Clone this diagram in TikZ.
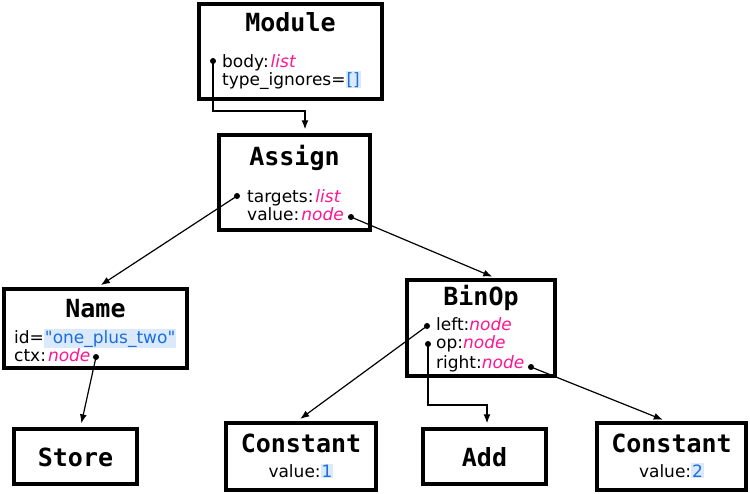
\documentclass[tikz,border=0pt]{standalone}
\usepackage{fontspec}
\setmainfont{DejaVu Sans}
\newfontfamily\rawfont{DejaVu Sans}
\newfontfamily\titlefont{DejaVu Sans Mono}[BoldFont={* Bold}]
\usepackage{tikz}
\usetikzlibrary{arrows.meta,positioning,calc}

\definecolor{kwpink}{RGB}{255,20,147}
\definecolor{valblue}{RGB}{28,110,222}
\definecolor{valbg}{RGB}{218,234,252}
\newcommand{\kw}[1]{\textcolor{kwpink}{\itshape #1}}
\newcommand{\valbox}[1]{{\setlength\fboxsep{1pt}\colorbox{valbg}{\textcolor{valblue}{#1}}}}

\begin{document}
\begin{tikzpicture}[
  x=1pt, y=-1pt,
  box/.style={draw, line width=3.5pt, inner sep=0pt},
  title/.style={anchor=base, inner sep=0pt, font=\titlefont\bfseries\fontsize{25}{25}\selectfont},
  field/.style={anchor=base west, inner sep=0pt, font=\fontsize{17}{17}\selectfont},
  dot/.style={circle, fill, inner sep=0pt, minimum size=6pt},
  arr/.style={-{Latex[length=9pt,width=7pt]}, line width=1.2pt, shorten >=4pt}]
  \useasboundingbox (0,0) rectangle (750,493);

  % boxes
  \node[box, minimum width=183pt, minimum height=95pt] (module) at (290.5,51.5) {};
  \node[box, minimum width=151pt, minimum height=95pt] (assign) at (294.5,182.5) {};
  \node[box, minimum width=183pt, minimum height=79pt] (name)   at (95.5,328.5) {};
  \node[box, minimum width=148pt, minimum height=96pt] (binop)  at (481,328) {};
  \node[box, minimum width=123pt, minimum height=55pt] (store)  at (75.5,456.5) {};
  \node[box, minimum width=150pt, minimum height=67pt] (constL) at (301,456.5) {};
  \node[box, minimum width=123pt, minimum height=55pt] (add)    at (484.5,456.5) {};
  \node[box, minimum width=149pt, minimum height=67pt] (constR) at (671.5,456.5) {};

  % titles
  \node[title] (moduleT) at (290.5,31)  {Module};
  \node[title] (assignT) at (294.5,165) {Assign};
  \node[title] (nameT)   at (95.5,317)  {Name};
  \node[title] (binopT)  at (481,305)   {BinOp};
  \node[title] (storeT)  at (75.5,466)  {Store};
  \node[title] (constLT) at (301,452)   {Constant};
  \node[title] (addT)    at (484.5,466) {Add};
  \node[title] (constRT) at (671.5,452) {Constant};

  % fields
  \node[field] (modBody) at (222,67)  {body:\kern2pt\kw{list}};
  \node[field] (modTI)   at (222,85)  {type\_ignores=\valbox{[]}};
  \node[field] (asgTgt)  at (247,202) {targets:\kern2pt\kw{list}};
  \node[field] (asgVal)  at (247,220) {value:\kern2pt\kw{node}};
  \node[field] (nameId)  at (14,343)  {id=\valbox{\rawfont"one\_plus\_two"}};
  \node[field] (nameCtx) at (14,361)  {ctx:\kern2pt\kw{node}};
  \node[field] (binLeft) at (436,330) {left:\kw{node}};
  \node[field] (binOp)   at (436,348) {op:\kw{node}};
  \node[field] (binRight) at (436,368) {right:\kw{node}};
  \node[field, anchor=base] (constLV) at (301,477) {value:\valbox{1}};
  \node[field, anchor=base] (constRV) at (671.5,477) {value:\valbox{2}};

  % dots
  \node[dot] (modBodyDot)  at (213,61)  {};
  \node[dot] (asgTgtDot)   at (237,196) {};
  \node[dot] (asgValDot)   at (351,217) {};
  \node[dot] (nameCtxDot)  at (96,357)  {};
  \node[dot] (binLeftDot)  at (427,326) {};
  \node[dot] (binOpDot)    at (428,344) {};
  \node[dot] (binRightDot) at (531,367) {};

  \coordinate (modBend) at (305,111);
  \coordinate (opBend)  at (487,405);

  % connectors
  \draw[arr] (modBodyDot.center) |- (modBend) -- (modBend |- assign.north);
  \draw[arr] (asgTgtDot.center) -- ([xshift=2pt]name.north);
  \draw[arr] (asgValDot.center) -- ([xshift=15pt]binop.north);
  \draw[arr] (nameCtxDot.center) -- ([xshift=5pt]store.north);
  \draw[arr] (binLeftDot.center) -- ([xshift=-4pt]constL.north);
  \draw[arr] (binOpDot.center) |- (opBend) -- (opBend |- add.north);
  \draw[arr] (binRightDot.center) -- ([xshift=-5pt]constR.north);
\end{tikzpicture}
\end{document}
